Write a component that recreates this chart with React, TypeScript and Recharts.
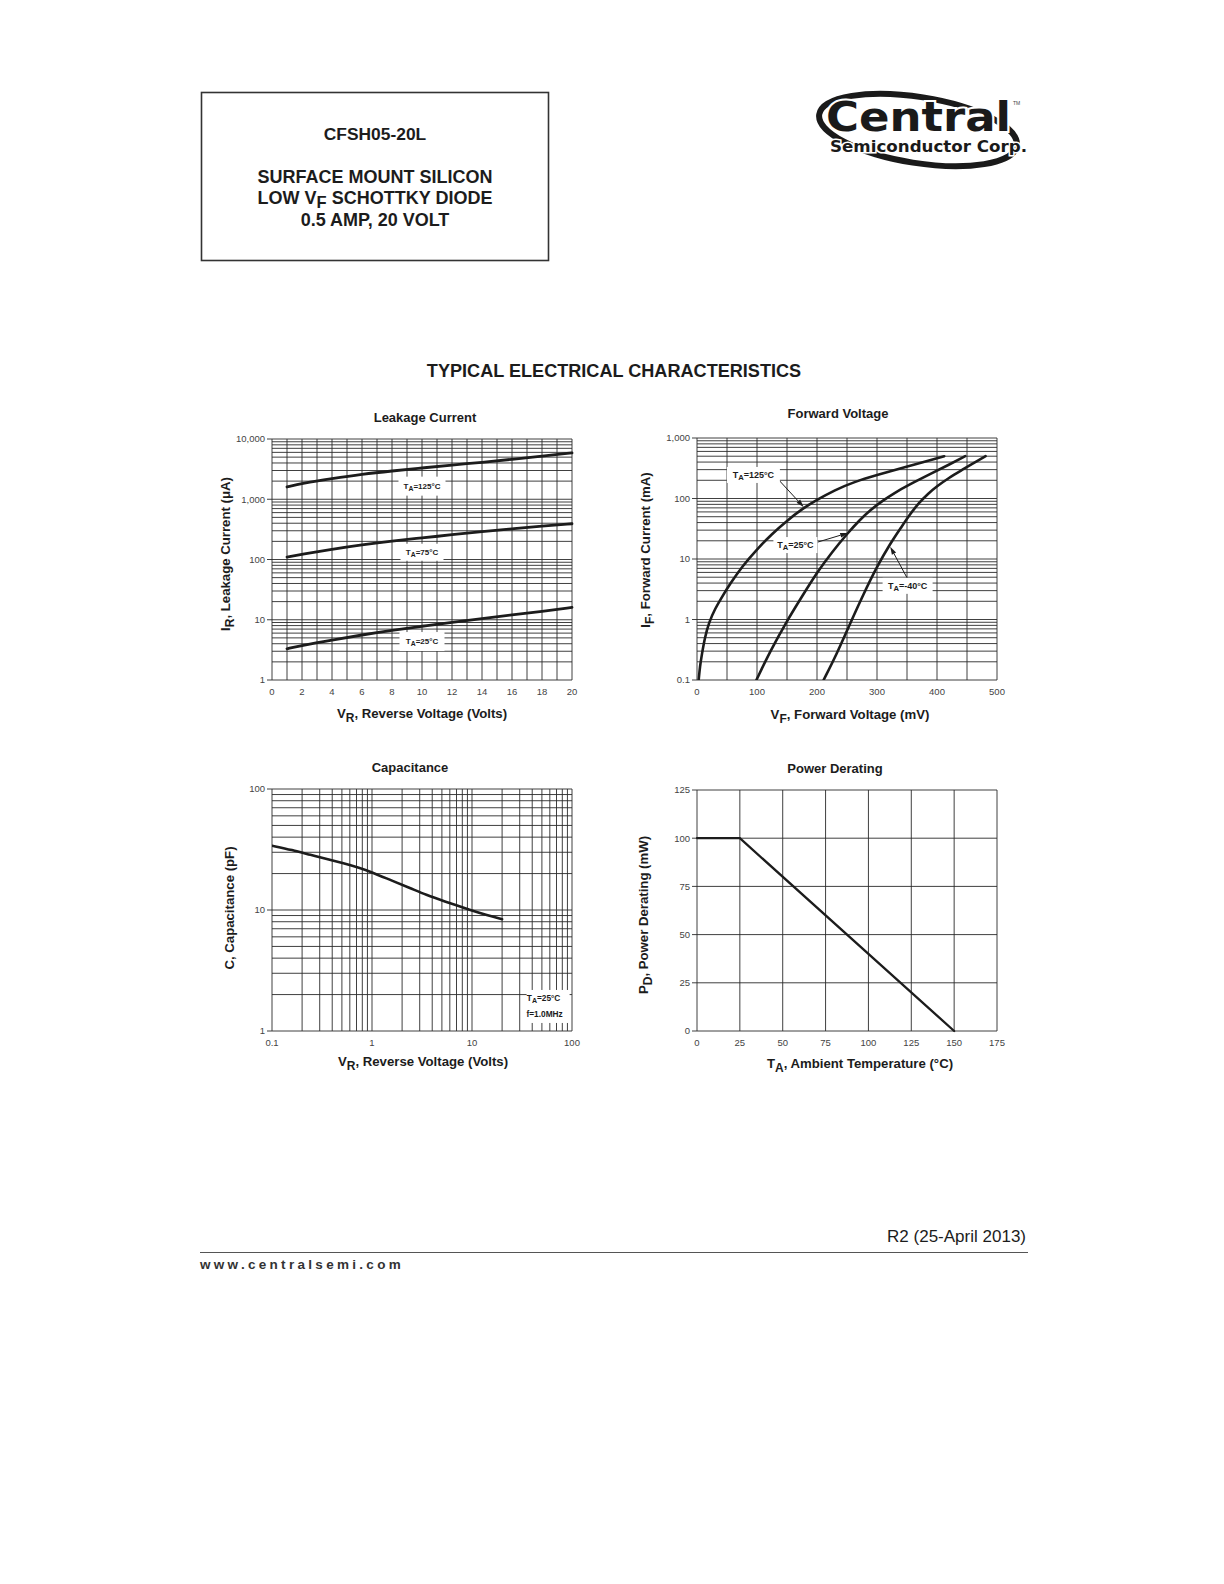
import React from 'react'
import {
  LineChart,
  Line,
  XAxis,
  YAxis,
  CartesianGrid,
  ReferenceDot,
  ReferenceLine,
} from 'recharts'

const FONT = '"Liberation Sans", Arial, Helvetica, sans-serif'
const INK = '#1c1c1c'
const GRID = '#2a2a2a'
const TICK_TEXT = '#444'

// ---- Leakage Current (IR vs VR) ----
const leakVolts = [1, 2, 4, 6, 8, 10, 12, 14, 16, 18, 20]
const leak125 = [1600, 1830, 2200, 2600, 2950, 3300, 3700, 4100, 4600, 5200, 5900]
const leak75 = [110, 122, 148, 175, 203, 228, 258, 290, 322, 358, 392]
const leak25 = [3.3, 3.75, 4.6, 5.6, 6.7, 7.8, 9.1, 10.5, 12, 13.8, 16]
const leakXTicks = [0, 1, 2, 3, 4, 5, 6, 7, 8, 9, 10, 11, 12, 13, 14, 15, 16, 17, 18, 19, 20]
const leakXLabels = [0, 2, 4, 6, 8, 10, 12, 14, 16, 18, 20]
const leakYLabels = [1, 10, 100, 1000, 10000]

// ---- Forward Voltage (IF vs VF) ----
const fwdMv125 = [2.8, 5, 8, 13, 20, 30, 42, 56, 75, 100, 125, 150, 175, 200, 230, 260, 300, 350, 412]
const fwdMa125 = [0.1, 0.17, 0.26, 0.5, 0.9, 1.5, 2.4, 4, 7.5, 14.5, 26, 43, 67, 95, 138, 185, 245, 335, 500]
const fwdMv25 = [99, 122, 150, 175, 200, 225, 250, 270, 290, 310, 330, 350, 390, 420, 447]
const fwdMa25 = [0.1, 0.3, 0.95, 2.4, 6, 13, 26, 43, 66, 93, 125, 162, 257, 363, 500]
const fwdMvM40 = [211, 233, 255, 278, 300, 322, 340, 355, 370, 385, 400, 420, 440, 460, 481]
const fwdMaM40 = [0.1, 0.27, 0.85, 2.7, 7.5, 18, 33, 55, 85, 120, 160, 220, 290, 380, 500]
const fwdXTicks = [0, 50, 100, 150, 200, 250, 300, 350, 400, 450, 500]
const fwdXLabels = [0, 100, 200, 300, 400, 500]
const fwdYLabels = [0.1, 1, 10, 100, 1000]

// ---- Capacitance (C vs VR) ----
const capVolts = [0.1, 0.16, 0.24, 0.38, 0.51, 0.75, 1, 1.6, 2.4, 3.5, 5.1, 10, 14, 20]
const capPf = [34, 31.3, 28.6, 26, 24.4, 22.3, 20.5, 17.4, 15.2, 13.3, 11.9, 9.9, 9.1, 8.4]
const capXLabels = [0.1, 1, 10, 100]
const capYLabels = [1, 10, 100]

// ---- Power Derating (PD vs TA) ----
const powerTemp = [0, 25, 150]
const powerMw = [100, 100, 0]
const powerXTicks = [0, 25, 50, 75, 100, 125, 150, 175]
const powerYTicks = [0, 25, 50, 75, 100, 125]

const MINOR_STEPS = [1, 2, 3, 4, 5, 6, 7, 8, 9]

// grid lines of a log axis: 1..9 x every decade, plus the last decade
function logGrid(decades: number[]) {
  const out: number[] = []
  decades.slice(0, -1).forEach((d) => MINOR_STEPS.forEach((m) => out.push(+(d * m).toPrecision(6))))
  out.push(decades[decades.length - 1])
  return out
}

const near = (a: number, list: number[]) => list.some((b) => Math.abs(a - b) < 1e-9 * Math.max(1, b))
const fmtComma = (v: number) => v.toLocaleString('en-US')

function YTick(props: any) {
  const { x, y, payload, labels, fmt } = props
  if (!near(payload.value, labels)) return <g />
  return (
    <g>
      <line x1={x - 5} x2={x} y1={y} y2={y} stroke={GRID} strokeWidth={0.9} />
      <text x={x - 7} y={y} dy={3.4} textAnchor="end" fontSize={9.5} fill={TICK_TEXT} fontFamily={FONT}>
        {fmt ? fmt(payload.value) : payload.value}
      </text>
    </g>
  )
}

function XTick(props: any) {
  const { x, y, payload, labels } = props
  if (!near(payload.value, labels)) return <g />
  return (
    <text x={x} y={y + 15} textAnchor="middle" fontSize={9.5} fill={TICK_TEXT} fontFamily={FONT}>
      {payload.value}
    </text>
  )
}

function TempTag({ cx, cy, w, h, temp, size }: any) {
  const d = size * 0.3
  return (
    <g>
      <rect x={cx - w / 2} y={cy - h / 2} width={w} height={h} fill="#fff" />
      <text x={cx} y={cy + d} textAnchor="middle" fontSize={size} fontWeight="bold" fill={INK} fontFamily={FONT}>
        T<tspan fontSize={size * 0.85} dy={d}>A</tspan>
        <tspan dy={-d}>={temp}</tspan>
      </text>
    </g>
  )
}

function Arrow(props: any) {
  const { x1, y1, x2, y2 } = props
  if (x1 == null || x2 == null) return <g />
  const ang = Math.atan2(y2 - y1, x2 - x1)
  const len = 8
  const half = 2.4
  const bx = x2 - len * Math.cos(ang)
  const by = y2 - len * Math.sin(ang)
  const pts = `${x2},${y2} ${bx + half * Math.sin(ang)},${by - half * Math.cos(ang)} ${bx - half * Math.sin(ang)},${by + half * Math.cos(ang)}`
  return (
    <g>
      <line x1={x1} y1={y1} x2={bx} y2={by} stroke={INK} strokeWidth={1} />
      <polygon points={pts} fill={INK} />
    </g>
  )
}

const curve = { type: 'basis' as const, stroke: INK, dot: false, isAnimationActive: false, strokeLinecap: 'round' as const }

function LeakageChart() {
  const rows = leakVolts.map((v, i) => ({ v, t125: leak125[i], t75: leak75[i], t25: leak25[i] }))
  return (
    <div style={{ position: 'absolute', left: 210, top: 400 }}>
      <LineChart width={380} height={330} data={rows} margin={{ top: 39, right: 18, bottom: 20, left: 2 }}>
        <CartesianGrid stroke={GRID} strokeWidth={0.9} fill="none" />
        <XAxis
          dataKey="v"
          type="number"
          domain={[0, 20]}
          ticks={leakXTicks}
          interval={0}
          height={30}
          axisLine={false}
          tickLine={false}
          tickSize={0}
          tickMargin={0}
          tick={(p: any) => <XTick {...p} labels={leakXLabels} />}
        />
        <YAxis
          type="number"
          scale="log"
          domain={[1, 10000]}
          allowDataOverflow
          ticks={logGrid(leakYLabels)}
          interval={0}
          width={60}
          axisLine={false}
          tickLine={false}
          tickSize={0}
          tickMargin={0}
          tick={(p: any) => <YTick {...p} labels={leakYLabels} fmt={fmtComma} />}
        />
        <ReferenceDot x={10} y={1650} shape={(p: any) => <TempTag cx={p.cx} cy={p.cy} w={47} h={19} temp="125°C" size={8} />} />
        <ReferenceDot x={10} y={132} shape={(p: any) => <TempTag cx={p.cx} cy={p.cy} w={43} h={17} temp="75°C" size={8} />} />
        <ReferenceDot x={10} y={4.35} shape={(p: any) => <TempTag cx={p.cx} cy={p.cy} w={45} h={19} temp="25°C" size={8} />} />
        <Line {...curve} dataKey="t125" strokeWidth={2.8} />
        <Line {...curve} dataKey="t75" strokeWidth={2.8} />
        <Line {...curve} dataKey="t25" strokeWidth={2.8} />
      </LineChart>
    </div>
  )
}

function ForwardChart() {
  const s125 = fwdMv125.map((mv, i) => ({ mv, ma: fwdMa125[i] }))
  const s25 = fwdMv25.map((mv, i) => ({ mv, ma: fwdMa25[i] }))
  const sM40 = fwdMvM40.map((mv, i) => ({ mv, ma: fwdMaM40[i] }))
  return (
    <div style={{ position: 'absolute', left: 620, top: 395 }}>
      <LineChart width={390} height={330} margin={{ top: 43, right: 13, bottom: 15, left: 17 }}>
        <CartesianGrid stroke={GRID} strokeWidth={0.9} fill="none" />
        <XAxis
          dataKey="mv"
          type="number"
          domain={[0, 500]}
          ticks={fwdXTicks}
          interval={0}
          height={30}
          axisLine={false}
          tickLine={false}
          tickSize={0}
          tickMargin={0}
          tick={(p: any) => <XTick {...p} labels={fwdXLabels} />}
        />
        <YAxis
          type="number"
          scale="log"
          domain={[0.1, 1000]}
          allowDataOverflow
          ticks={logGrid(fwdYLabels)}
          interval={0}
          width={60}
          axisLine={false}
          tickLine={false}
          tickSize={0}
          tickMargin={0}
          tick={(p: any) => <YTick {...p} labels={fwdYLabels} fmt={fmtComma} />}
        />
        <ReferenceDot x={94} y={245} shape={(p: any) => <TempTag cx={p.cx} cy={p.cy} w={53} h={16} temp="125°C" size={9} />} />
        <ReferenceDot x={164} y={17} shape={(p: any) => <TempTag cx={p.cx} cy={p.cy} w={44} h={16} temp="25°C" size={9} />} />
        <ReferenceDot x={351} y={3.6} shape={(p: any) => <TempTag cx={p.cx} cy={p.cy} w={50} h={16} temp="-40°C" size={9} />} />
        <ReferenceLine segment={[{ x: 136, y: 204 }, { x: 178, y: 72 }]} shape={Arrow} />
        <ReferenceLine segment={[{ x: 201, y: 19 }, { x: 252, y: 27 }]} shape={Arrow} />
        <ReferenceLine segment={[{ x: 350, y: 4.9 }, { x: 322, y: 16 }]} shape={Arrow} />
        <Line {...curve} data={s125} dataKey="ma" strokeWidth={2.6} />
        <Line {...curve} data={s25} dataKey="ma" strokeWidth={2.6} />
        <Line {...curve} data={sM40} dataKey="ma" strokeWidth={2.6} />
      </LineChart>
    </div>
  )
}

function CapacitanceChart() {
  const rows = capVolts.map((v, i) => ({ v, c: capPf[i] }))
  return (
    <div style={{ position: 'absolute', left: 210, top: 745 }}>
      <LineChart width={380} height={330} data={rows} margin={{ top: 44, right: 18, bottom: 14, left: 2 }}>
        <CartesianGrid stroke={GRID} strokeWidth={0.9} fill="none" />
        <XAxis
          dataKey="v"
          type="number"
          scale="log"
          domain={[0.1, 100]}
          allowDataOverflow
          ticks={logGrid(capXLabels)}
          interval={0}
          height={30}
          axisLine={false}
          tickLine={false}
          tickSize={0}
          tickMargin={0}
          tick={(p: any) => <XTick {...p} labels={capXLabels} />}
        />
        <YAxis
          type="number"
          scale="log"
          domain={[1, 100]}
          allowDataOverflow
          ticks={logGrid(capYLabels)}
          interval={0}
          width={60}
          axisLine={false}
          tickLine={false}
          tickSize={0}
          tickMargin={0}
          tick={(p: any) => <YTick {...p} labels={capYLabels} />}
        />
        <ReferenceDot
          x={57}
          y={1.58}
          shape={(p: any) => (
            <g>
              <rect x={p.cx - 21} y={p.cy - 17} width={43} height={33} fill="#fff" />
              <text x={p.cx - 4} y={p.cy - 6} textAnchor="middle" fontSize={8.3} fontWeight="bold" fill={INK} fontFamily={FONT}>
                T<tspan fontSize={7} dy={2.5}>A</tspan>
                <tspan dy={-2.5}>=25°C</tspan>
              </text>
              <text x={p.cx - 3} y={p.cy + 10} textAnchor="middle" fontSize={8.3} fontWeight="bold" fill={INK} fontFamily={FONT}>
                f=1.0MHz
              </text>
            </g>
          )}
        />
        <Line {...curve} dataKey="c" strokeWidth={2.6} />
      </LineChart>
    </div>
  )
}

function PowerChart() {
  const rows = powerTemp.map((t, i) => ({ t, p: powerMw[i] }))
  return (
    <div style={{ position: 'absolute', left: 620, top: 745 }}>
      <LineChart width={390} height={330} data={rows} margin={{ top: 45, right: 13, bottom: 14, left: 17 }}>
        <CartesianGrid stroke={GRID} strokeWidth={0.9} fill="none" />
        <XAxis
          dataKey="t"
          type="number"
          domain={[0, 175]}
          ticks={powerXTicks}
          interval={0}
          height={30}
          axisLine={false}
          tickLine={false}
          tickSize={0}
          tickMargin={0}
          tick={(p: any) => <XTick {...p} labels={powerXTicks} />}
        />
        <YAxis
          type="number"
          domain={[0, 125]}
          ticks={powerYTicks}
          interval={0}
          width={60}
          axisLine={false}
          tickLine={false}
          tickSize={0}
          tickMargin={0}
          tick={(p: any) => <YTick {...p} labels={powerYTicks} />}
        />
        <Line {...curve} type="linear" dataKey="p" strokeWidth={2.3} />
      </LineChart>
    </div>
  )
}

// text with a lowered subscript: head, sub, tail
function SubText({ head, sub, tail, size = 12, d = 4 }: any) {
  return (
    <>
      {head}
      <tspan fontSize={size} dy={d}>{sub}</tspan>
      <tspan dy={-d}>{tail}</tspan>
    </>
  )
}

function PageText() {
  const title = { fontSize: 13.2, fontWeight: 'bold' as const, fill: INK, textAnchor: 'middle' as const }
  const rot = (x: number, y: number) => `rotate(-90 ${x} ${y})`
  return (
    <svg width={1224} height={1584} style={{ position: 'absolute', left: 0, top: 0 }} fontFamily={FONT}>
      {/* header box */}
      <rect x={201.5} y={92.5} width={347} height={168} fill="none" stroke="#333" strokeWidth={1.6} />
      <g fontSize={18} fontWeight="bold" fill={INK} textAnchor="middle">
        <text x={375} y={140} fontSize={17.4}>CFSH05-20L</text>
        <text x={375} y={183}>SURFACE MOUNT SILICON</text>
        <text x={375} y={204}>
          <SubText head="LOW V" sub="F" tail=" SCHOTTKY DIODE" size={16.5} d={4} />
        </text>
        <text x={375} y={226}>0.5 AMP, 20 VOLT</text>
      </g>

      {/* logo */}
      <ellipse cx={918} cy={130} rx={100} ry={33} fill="none" stroke="#1a1a1a" strokeWidth={6} transform="rotate(9 918 130)" />
      <text x={826} y={131} fontFamily='"DejaVu Sans", sans-serif' fontWeight="bold" fontSize={40} textLength={185} lengthAdjust="spacingAndGlyphs" fill="#1a1a1a" stroke="#fff" strokeWidth={4} paintOrder="stroke">
        Central
      </text>
      <text x={830} y={151.5} fontFamily='"DejaVu Sans", sans-serif' fontWeight="bold" fontSize={16} textLength={197} lengthAdjust="spacingAndGlyphs" fill="#1a1a1a" stroke="#fff" strokeWidth={3} paintOrder="stroke">
        Semiconductor Corp.
      </text>
      <text x={1013} y={105} fontSize={5} fill="#444">TM</text>

      <text x={614} y={376.5} fontSize={18.1} fontWeight="bold" fill={INK} textAnchor="middle">
        TYPICAL ELECTRICAL CHARACTERISTICS
      </text>

      {/* chart titles */}
      <text x={425} y={421.5} {...title} fontSize={13}>Leakage Current</text>
      <text x={838} y={418} {...title} fontSize={13}>Forward Voltage</text>
      <text x={410} y={771.5} {...title} fontSize={13}>Capacitance</text>
      <text x={835} y={773} {...title} fontSize={13}>Power Derating</text>

      {/* x axis titles */}
      <text x={422} y={718} {...title}>
        <SubText head="V" sub="R" tail=", Reverse Voltage (Volts)" />
      </text>
      <text x={850} y={719} {...title}>
        <SubText head="V" sub="F" tail=", Forward Voltage (mV)" />
      </text>
      <text x={423} y={1066} {...title}>
        <SubText head="V" sub="R" tail=", Reverse Voltage (Volts)" />
      </text>
      <text x={860} y={1068} {...title}>
        <SubText head="T" sub="A" tail=", Ambient Temperature (°C)" />
      </text>

      {/* y axis titles */}
      <text x={229.5} y={554} {...title} transform={rot(229.5, 554)}>
        <SubText head="I" sub="R" tail=", Leakage Current (μA)" />
      </text>
      <text x={649.5} y={550} {...title} transform={rot(649.5, 550)}>
        <SubText head="I" sub="F" tail=", Forward Current (mA)" />
      </text>
      <text x={234} y={908} {...title} transform={rot(234, 908)}>
        C, Capacitance (pF)
      </text>
      <text x={648} y={915} {...title} transform={rot(648, 915)}>
        <SubText head="P" sub="D" tail=", Power Derating (mW)" />
      </text>

      {/* footer */}
      <text x={1026} y={1242} fontSize={17} fill={INK} textAnchor="end">R2 (25-April 2013)</text>
      <line x1={200} x2={1028} y1={1252.5} y2={1252.5} stroke="#555" strokeWidth={1} />
      <text x={200} y={1268.5} fontSize={13.5} fontWeight="bold" fill="#333" letterSpacing={3.3}>
        www.centralsemi.com
      </text>
    </svg>
  )
}

export default function App() {
  return (
    <div style={{ position: 'absolute', left: 0, top: 0, width: 1224, height: 1584, background: '#fff', fontFamily: FONT }}>
      <PageText />
      <LeakageChart />
      <ForwardChart />
      <CapacitanceChart />
      <PowerChart />
    </div>
  )
}
